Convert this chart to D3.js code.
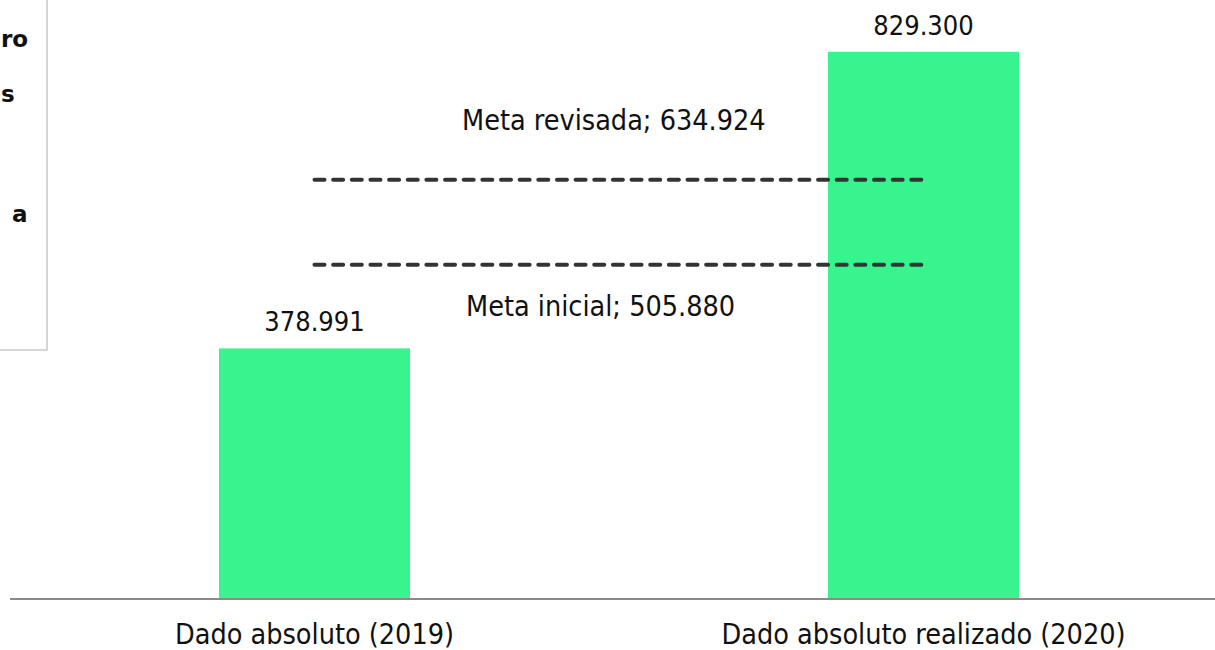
<!DOCTYPE html>
<html>
<head>
<meta charset="utf-8">
<script src="https://cdn.jsdelivr.net/npm/d3@7"></script>
<style>
    body { margin: 0; background: #fff; }
    svg text { font-family: "DejaVu Sans Condensed", "DejaVu Sans", sans-serif; font-stretch: condensed; fill: #111; }
    svg text.boxline { font-family: "DejaVu Sans", sans-serif; font-stretch: normal; font-weight: bold; }
</style>
</head>
<body>
<div id="plot"></div>
<script>
// data
var categories = ["Dado absoluto (2019)", "Dado absoluto realizado (2020)"];
var values = [378991, 829300];
var metaNames = ["Meta revisada", "Meta inicial"];
var metaValues = [634924, 505880];
var boxLines = ["ro", "s", "a"];

var width = 1215,
    height = 650;

var svg = d3.select('#plot')
    .append('svg')
    .attr('width', width)
    .attr('height', height);

var ptBR = d3.formatLocale({decimal: ",", thousands: ".", grouping: [3], currency: ["R$", ""]});
var fmt = ptBR.format(",d");

var baseY = 598;

var x = d3.scalePoint()
    .domain(categories)
    .range([10, 1228])
    .padding(0.5);

var y = d3.scaleLinear()
    .domain([0, 908000])
    .range([baseY, 0]);

var barW = 191;

// text box on the left (mostly outside the frame)
svg.append('rect')
    .attr('x', -20)
    .attr('y', -20)
    .attr('width', 67)
    .attr('height', 370)
    .attr('fill', '#fff')
    .attr('stroke', '#c8c8c8')
    .attr('stroke-width', 1.5);

var boxY = [47, 102, 222],
    boxX = [1, 1, 12];
svg.selectAll('.boxline')
    .data(boxLines)
    .enter()
    .append('text')
    .attr('class', 'boxline')
    .attr('x', function (d, i) { return boxX[i]; })
    .attr('y', function (d, i) { return boxY[i]; })
    .style('font-size', '23px')
    .text(function (d) { return d; });

// bars
svg.selectAll('.bar')
    .data(values)
    .enter()
    .append('rect')
    .attr('class', 'bar')
    .attr('x', function (d, i) { return x(categories[i]) - barW / 2; })
    .attr('y', function (d) { return y(d); })
    .attr('width', barW)
    .attr('height', function (d) { return baseY - y(d); })
    .attr('fill', '#37f48e');

// value labels
svg.selectAll('.val')
    .data(values)
    .enter()
    .append('text')
    .attr('class', 'val')
    .attr('x', function (d, i) { return x(categories[i]); })
    .attr('y', function (d) { return y(d) - 17; })
    .attr('text-anchor', 'middle')
    .style('font-size', '27px')
    .text(function (d) { return fmt(d); });

// goal lines
svg.selectAll('.meta')
    .data(metaValues)
    .enter()
    .append('line')
    .attr('class', 'meta')
    .attr('x1', x(categories[0]))
    .attr('x2', x(categories[1]))
    .attr('y1', function (d) { return y(d); })
    .attr('y2', function (d) { return y(d); })
    .attr('stroke', '#333')
    .attr('stroke-width', 4)
    .attr('stroke-linecap', 'round')
    .attr('stroke-dasharray', '10 8.65');

var metaX = [462, 466],
    metaDy = [-50, 51];
svg.selectAll('.metalabel')
    .data(metaValues)
    .enter()
    .append('text')
    .attr('class', 'metalabel')
    .attr('x', function (d, i) { return metaX[i]; })
    .attr('y', function (d, i) { return y(d) + metaDy[i]; })
    .style('font-size', '28.5px')
    .text(function (d, i) { return metaNames[i] + '; ' + fmt(d); });

// axis
svg.append('line')
    .attr('x1', 10)
    .attr('x2', 1215)
    .attr('y1', baseY + 1)
    .attr('y2', baseY + 1)
    .attr('stroke', '#8a8a8a')
    .attr('stroke-width', 2);

svg.selectAll('.cat')
    .data(categories)
    .enter()
    .append('text')
    .attr('class', 'cat')
    .attr('x', function (d) { return x(d); })
    .attr('y', 644)
    .attr('text-anchor', 'middle')
    .style('font-size', '28.5px')
    .text(function (d) { return d; });
</script>
</body>
</html>
